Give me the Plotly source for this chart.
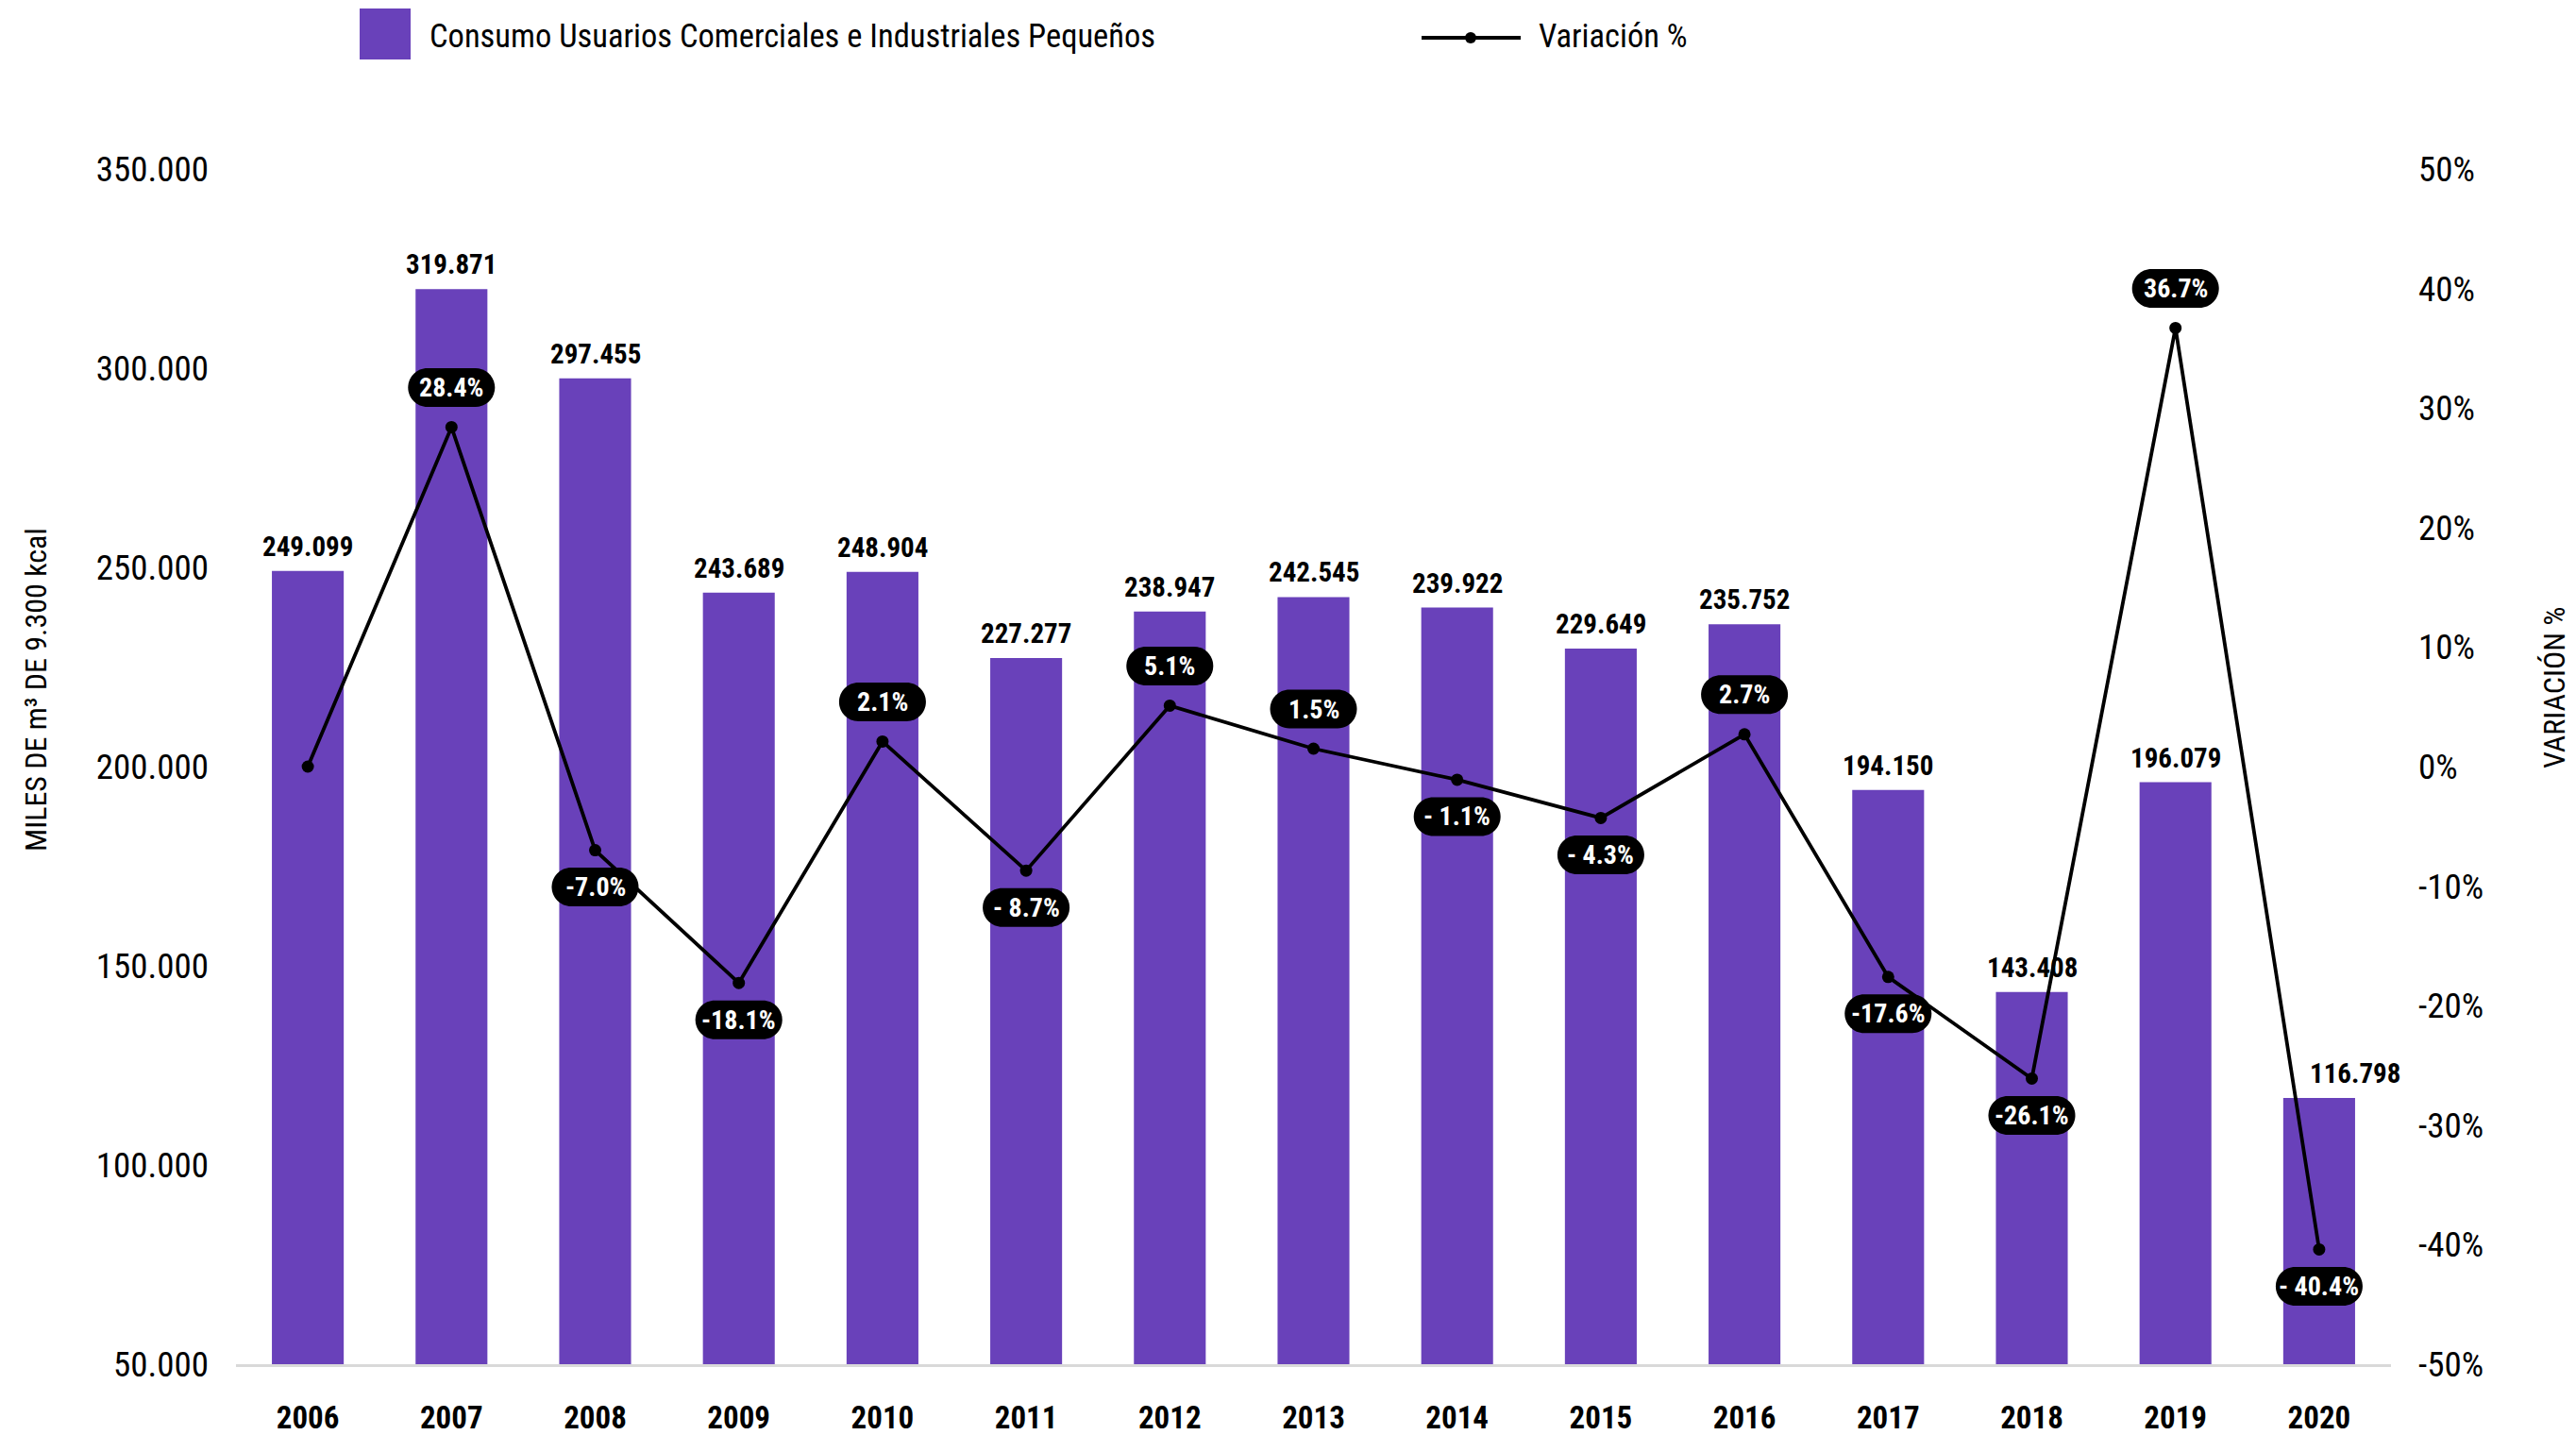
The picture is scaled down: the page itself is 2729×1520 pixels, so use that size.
import plotly.graph_objects as go

years = ["2006", "2007", "2008", "2009", "2010", "2011", "2012", "2013", "2014",
         "2015", "2016", "2017", "2018", "2019", "2020"]
consumo = [249099, 319871, 297455, 243689, 248904, 227277, 238947, 242545, 239922,
           229649, 235752, 194150, 143408, 196079, 116798]
consumo_labels = ["249.099", "319.871", "297.455", "243.689", "248.904", "227.277", "238.947",
                  "242.545", "239.922", "229.649", "235.752", "194.150", "143.408", "196.079",
                  "116.798"]
variacion = [0.0, 28.4, -7.0, -18.1, 2.1, -8.7, 5.1, 1.5, -1.1, -4.3, 2.7, -17.6, -26.1, 36.7, -40.4]
variacion_labels = ["", "28.4%", "-7.0%", "-18.1%", "2.1%", "- 8.7%", "5.1%", "1.5%", "- 1.1%",
                    "- 4.3%", "2.7%", "-17.6%", "-26.1%", "36.7%", "- 40.4%"]
left_ticks = [50000, 100000, 150000, 200000, 250000, 300000, 350000]
left_tick_text = ["50.000", "100.000", "150.000", "200.000", "250.000", "300.000", "350.000"]
right_ticks = [-50, -40, -30, -20, -10, 0, 10, 20, 30, 40, 50]
right_tick_text = ["-50%", "-40%", "-30%", "-20%", "-10%", "0%", "10%", "20%", "30%", "40%", "50%"]

PURPLE = "#6941BA"
FONT = "Roboto Condensed, Liberation Sans Narrow, DejaVu Sans Condensed, Roboto, sans-serif"

W, H = 2729, 1520
ML, MR, MT, MB = 250, 196, 179, 75
PW, PH = W - ML - MR, H - MT - MB


def px(x):
    return (x - ML) / PW


def py(y):
    return (H - MB - y) / PH


def pill_path(cy, half_w=46, r=20.5):
    """Rounded 'pill' outline, in pixels relative to its anchor point."""
    k = 0.5523 * r
    a = half_w - r
    t, b = cy + r, cy - r
    return (
        f"M {-a},{t} L {a},{t} "
        f"C {a + k},{t} {a + r},{cy + k} {a + r},{cy} "
        f"C {a + r},{cy - k} {a + k},{b} {a},{b} "
        f"L {-a},{b} "
        f"C {-a - k},{b} {-a - r},{cy - k} {-a - r},{cy} "
        f"C {-a - r},{cy + k} {-a - k},{t} {-a},{t} Z"
    )


fig = go.Figure()
fig.add_trace(go.Bar(
    x=years, y=consumo, name="Consumo Usuarios Comerciales e Industriales Pequeños",
    marker=dict(color=PURPLE, line=dict(width=0)), width=0.5, yaxis="y",
    showlegend=False,
))
fig.add_trace(go.Scatter(
    x=years, y=variacion, name="Variación %", mode="lines+markers", yaxis="y2",
    line=dict(color="black", width=3.8), marker=dict(color="black", size=13),
    showlegend=False,
))

annotations = []
shapes = []
for i, (v, lab) in enumerate(zip(consumo, consumo_labels)):
    last = i == len(consumo) - 1
    annotations.append(dict(
        x=i, y=v, xref="x", yref="y", text=lab, showarrow=False,
        xanchor="center", yanchor="bottom", yshift=7, xshift=38 if last else 0,
        font=dict(family=FONT, size=29, color="black", weight="bold"),
    ))

for i, (v, lab) in enumerate(zip(variacion, variacion_labels)):
    if not lab:
        continue
    shift = 42 if v > 0 else -39
    shapes.append(dict(
        type="path", xref="x", yref="y2", xsizemode="pixel", ysizemode="pixel",
        xanchor=i, yanchor=v, path=pill_path(shift),
        fillcolor="black", line=dict(width=0), layer="above",
    ))
    annotations.append(dict(
        x=i, y=v, xref="x", yref="y2", text="<b>" + lab + "</b>", showarrow=False,
        xanchor="center", yanchor="middle", yshift=shift,
        font=dict(family=FONT, size=28, color="white"),
    ))

# axis titles
annotations.append(dict(
    x=px(38), y=py(731), xref="paper", yref="paper", text="MILES DE m³ DE 9.300 kcal",
    xanchor="center", yanchor="middle",
    textangle=-90, showarrow=False, font=dict(family=FONT, size=32, color="black"),
))
annotations.append(dict(
    x=px(2706), y=py(728), xref="paper", yref="paper", text="VARIACIÓN %",
    xanchor="center", yanchor="middle",
    textangle=-90, showarrow=False, font=dict(family=FONT, size=32, color="black"),
))

# legend (drawn)
annotations.append(dict(
    x=px(453), y=py(38), xref="paper", yref="paper", xanchor="left", yanchor="middle",
    text="Consumo Usuarios Comerciales e Industriales Pequeños", showarrow=False,
    font=dict(family=FONT, size=34.5, color="black"),
))
annotations.append(dict(
    x=px(1628), y=py(38), xref="paper", yref="paper", xanchor="left", yanchor="middle",
    text="Variación %", showarrow=False,
    font=dict(family=FONT, size=34.5, color="black"),
))

shapes += [
    dict(type="rect", xref="paper", yref="paper", x0=px(381), x1=px(435), y0=py(63), y1=py(9),
         fillcolor=PURPLE, line=dict(width=0)),
    dict(type="line", xref="paper", yref="paper", x0=px(1506), x1=px(1611), y0=py(40), y1=py(40),
         line=dict(color="black", width=3.8)),
    dict(type="circle", xref="paper", yref="paper", x0=px(1552), x1=px(1564), y0=py(46), y1=py(34),
         fillcolor="black", line=dict(width=0)),
]

fig.update_layout(
    width=W, height=H,
    margin=dict(l=ML, r=MR, t=MT, b=MB, autoexpand=False),
    paper_bgcolor="white", plot_bgcolor="white",
    separators=",.",
    font=dict(family=FONT, size=34, color="black"),
    bargap=0.5,
    xaxis=dict(
        type="category", showgrid=False, showline=True, linecolor="#d9d9d9", linewidth=3,
        ticks="", ticklabelstandoff=25,
        tickfont=dict(family=FONT, size=33, color="black", weight="bold"),
        range=[-0.5, 14.5],
    ),
    yaxis=dict(
        range=[50000, 350000], tickvals=left_ticks, ticktext=left_tick_text,
        showgrid=False, zeroline=False, showline=False, ticks="", ticklabelstandoff=28,
        tickfont=dict(family=FONT, size=37, color="black"),
    ),
    yaxis2=dict(
        range=[-50, 50], tickvals=right_ticks, ticktext=right_tick_text, overlaying="y",
        side="right", showgrid=False, zeroline=False, showline=False, ticks="",
        ticklabelstandoff=28, tickfont=dict(family=FONT, size=37, color="black"),
    ),
    annotations=annotations,
    shapes=shapes,
)

fig.write_html(
    "out.html",
    config={"displayModeBar": False},
    post_script="document.body.style.margin='0';document.body.style.overflow='hidden';",
)
